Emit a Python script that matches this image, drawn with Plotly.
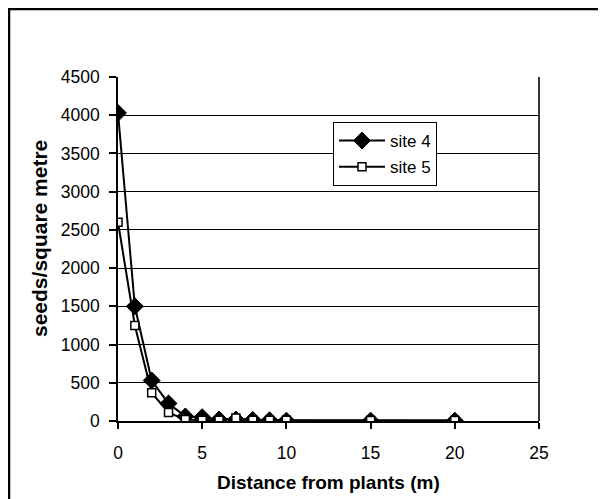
import plotly.graph_objects as go

distance = [0, 1, 2, 3, 4, 5, 6, 7, 8, 9, 10, 15, 20]
site4 = [4030, 1500, 530, 230, 60, 50, 20, 20, 15, 10, 5, 5, 5]
site5 = [2600, 1250, 370, 110, 20, 10, 10, 40, 10, 10, 10, 5, 5]
x_ticks = [0, 5, 10, 15, 20, 25]
y_ticks = [0, 500, 1000, 1500, 2000, 2500, 3000, 3500, 4000, 4500]

FONT = "Liberation Sans, Arial, sans-serif"

fig = go.Figure()
fig.add_trace(go.Scatter(
    x=distance, y=site4, name="site 4", mode="lines+markers",
    line=dict(color="black", width=2),
    marker=dict(symbol="diamond", size=13, color="black", line=dict(color="black", width=1)),
    legendgroup="a",
))
fig.add_trace(go.Scatter(
    x=distance, y=site5, name="site 5", mode="lines+markers",
    line=dict(color="black", width=2),
    marker=dict(symbol="square", size=8, color="white", line=dict(color="black", width=1.5)),
    legendgroup="b",
))

# figure coordinates (page body has an 8px margin)
W, H = 598, 491
L, R, T, B = 110, 531, 69, 413
pw, ph = R - L, B - T


def px(x):
    return (x - L) / pw


def py(y):
    return (B - y) / ph


fig.update_layout(
    width=W, height=H,
    margin=dict(l=L, r=W - R, t=T, b=H - B, pad=0),
    paper_bgcolor="white", plot_bgcolor="white",
    font=dict(family=FONT, size=17, color="black"),
    showlegend=True,
    legend=dict(
        x=px(325), y=py(114), xanchor="left", yanchor="top",
        bordercolor="black", borderwidth=1, bgcolor="white",
        font=dict(family=FONT, size=17, color="black"),
        tracegroupgap=1, itemwidth=46,
    ),
    xaxis=dict(
        range=[0, 25], tickvals=x_ticks, ticktext=[str(v) for v in x_ticks],
        showgrid=False, zeroline=False, automargin=False,
        showline=True, linecolor="black", linewidth=1.5,
        ticks="outside", ticklen=6, tickcolor="black", tickwidth=1.5,
        ticklabelstandoff=9,
        tickfont=dict(family=FONT, size=17.5),
    ),
    yaxis=dict(
        range=[0, 4500], tickvals=y_ticks, ticktext=[str(v) for v in y_ticks],
        showgrid=True, gridcolor="black", gridwidth=1,
        zeroline=False, automargin=False,
        showline=True, linecolor="black", linewidth=1.5,
        ticks="outside", ticklen=7, tickcolor="black", tickwidth=1.5,
        ticklabelstandoff=6,
        tickfont=dict(family=FONT, size=17.5),
    ),
    annotations=[
        dict(text="<b>Distance from plants (m)</b>", xref="paper", yref="paper",
             x=px(320.5), y=py(474), xanchor="center", yanchor="middle",
             showarrow=False, font=dict(family=FONT, size=19)),
        dict(text="<b>seeds/square metre</b>", xref="paper", yref="paper",
             x=px(32), y=py(231), xanchor="center", yanchor="middle", textangle=-90,
             showarrow=False, font=dict(family=FONT, size=21)),
    ],
    shapes=[
        dict(type="line", xref="paper", yref="paper", x0=1, x1=1, y0=0, y1=1,
             line=dict(color="#333333", width=2)),
        dict(type="rect", xref="paper", yref="paper",
             x0=px(1), x1=px(593), y0=py(H + 10), y1=py(1),
             line=dict(color="black", width=2.5), fillcolor="rgba(0,0,0,0)", layer="below"),
    ],
)

fig.write_html("out.html")
